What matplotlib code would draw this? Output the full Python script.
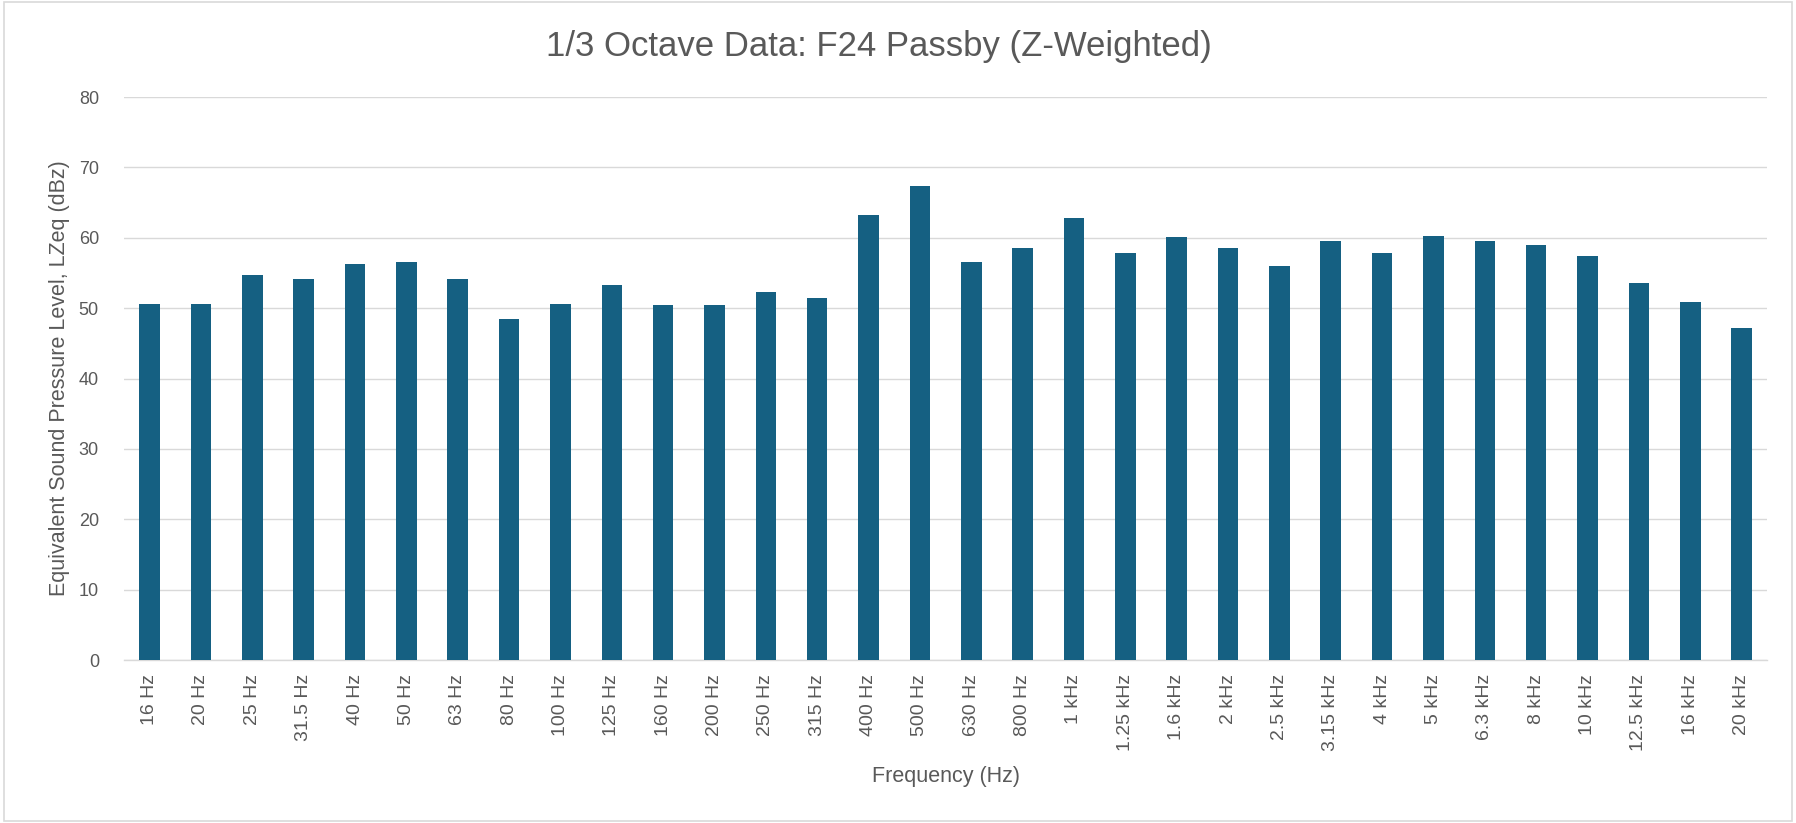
import matplotlib
matplotlib.use("Agg")
import matplotlib.pyplot as plt
from matplotlib.patches import Rectangle

categories = ["16 Hz", "20 Hz", "25 Hz", "31.5 Hz", "40 Hz", "50 Hz", "63 Hz", "80 Hz",
              "100 Hz", "125 Hz", "160 Hz", "200 Hz", "250 Hz", "315 Hz", "400 Hz",
              "500 Hz", "630 Hz", "800 Hz", "1 kHz", "1.25 kHz", "1.6 kHz", "2 kHz",
              "2.5 kHz", "3.15 kHz", "4 kHz", "5 kHz", "6.3 kHz", "8 kHz", "10 kHz",
              "12.5 kHz", "16 kHz", "20 kHz"]
levels = [50.6, 50.6, 54.7, 54.1, 56.3, 56.6, 54.1, 48.5, 50.6, 53.3, 50.4, 50.4,
          52.3, 51.5, 63.3, 67.3, 56.6, 58.5, 62.8, 57.9, 60.1, 58.5, 56.0, 59.5,
          57.9, 60.3, 59.5, 59.0, 57.4, 53.6, 50.9, 47.2]
yticks = [0, 10, 20, 30, 40, 50, 60, 70, 80]

title = "1/3 Octave Data: F24 Passby (Z-Weighted)"
xlabel = "Frequency (Hz)"
ylabel = "Equivalent Sound Pressure Level, LZeq (dBz)"

bar_color = "#156082"
text_color = "#595959"
grid_color = "#D9D9D9"

plt.rcParams["font.family"] = ["Liberation Sans", "DejaVu Sans"]

fig = plt.figure(figsize=(17.96, 8.23), dpi=100)
ax = fig.add_axes([0.069, 0.198, 0.915, 0.684])

x = list(range(len(categories)))
ax.bar(x, levels, width=0.4, color=bar_color, zorder=3)

ax.set_xlim(-0.5, len(categories) - 0.5)
ax.set_ylim(0, 80)
ax.set_yticks(yticks)
ax.set_xticks(x)
ax.set_xticklabels(categories, rotation=90, fontsize=14, color=text_color)
ax.tick_params(axis="y", labelsize=13, labelcolor=text_color, length=0, pad=18)
ax.tick_params(axis="x", length=0, pad=10)
ax.yaxis.grid(True, color=grid_color, linewidth=1.0, zorder=0)
for s in ["top", "right", "left"]:
    ax.spines[s].set_visible(False)
ax.spines["bottom"].set_color(grid_color)
ax.spines["bottom"].set_linewidth(1.0)

ax.set_xlabel(xlabel, fontsize=15.5, color=text_color, labelpad=11)
ax.set_ylabel(ylabel, fontsize=15.5, color=text_color, labelpad=6)
fig.text(0.4895, 0.944, title, ha="center", va="center", fontsize=25, color=text_color)

fig.patches.append(Rectangle((0.002, 0.003), 0.996, 0.994, transform=fig.transFigure,
                             fill=False, edgecolor=grid_color, linewidth=1.2))

fig.savefig("out.png", dpi=100, facecolor="white")
